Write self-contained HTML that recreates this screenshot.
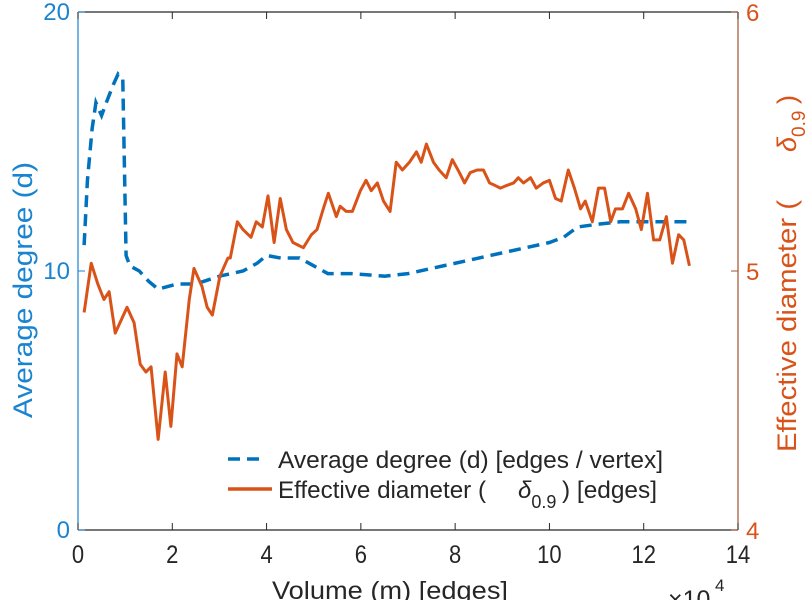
<!DOCTYPE html>
<html><head><meta charset="utf-8"><style>
html,body{margin:0;padding:0;background:#fff;}
svg{display:block;font-family:"Liberation Sans","DejaVu Sans",sans-serif;}
</style></head><body>
<svg id="chart" width="812" height="600" viewBox="0 0 812 600" xmlns="http://www.w3.org/2000/svg">
<g id="grid"></g>
<g id="series"></g>
<g id="legend"></g>
</svg>
<script>
const xTicks=[0,2,4,6,8,10,12,14];
const leftTicks=[0,10,20];
const rightTicks=[4,5,6];
const degX=[0.13,0.2,0.3,0.38,0.5,0.6,0.75,0.85,0.95,1.02,1.1,1.3,1.5,1.7,1.9,2.1,2.5,3.0,3.5,3.8,4.0,4.3,4.7,5.0,5.3,5.8,6.5,7.0,7.5,8.0,8.5,9.0,9.5,10.0,10.3,10.6,11.0,11.5,12.0,12.5,13.0];
const degY=[11.0,13.5,15.5,16.5,16.0,16.5,17.2,17.6,17.4,10.6,10.2,10.0,9.6,9.3,9.4,9.5,9.5,9.8,10.0,10.3,10.6,10.5,10.5,10.2,9.9,9.9,9.8,9.9,10.1,10.3,10.5,10.7,10.9,11.1,11.3,11.7,11.8,11.9,11.9,11.9,11.9];
const diaX=[0.13,0.28,0.42,0.55,0.66,0.79,1.04,1.19,1.32,1.44,1.55,1.70,1.85,1.97,2.10,2.21,2.36,2.46,2.63,2.74,2.85,3.01,3.18,3.23,3.38,3.50,3.67,3.78,3.91,4.03,4.16,4.29,4.42,4.56,4.67,4.78,4.95,5.07,5.22,5.31,5.48,5.56,5.69,5.82,5.99,6.11,6.22,6.35,6.48,6.62,6.75,6.88,7.03,7.18,7.28,7.39,7.54,7.66,7.81,7.94,8.09,8.20,8.32,8.47,8.60,8.73,8.85,8.96,9.09,9.24,9.34,9.45,9.60,9.72,9.87,10.0,10.13,10.25,10.40,10.53,10.66,10.76,10.91,11.04,11.17,11.30,11.40,11.55,11.68,11.83,11.95,12.08,12.21,12.34,12.48,12.61,12.74,12.85,12.97];
const diaY=[4.84,5.03,4.95,4.89,4.92,4.76,4.86,4.80,4.64,4.61,4.63,4.35,4.61,4.40,4.68,4.63,4.89,5.01,4.94,4.86,4.83,4.98,5.05,5.05,5.19,5.16,5.13,5.19,5.17,5.29,5.11,5.28,5.16,5.11,5.10,5.09,5.14,5.16,5.25,5.30,5.21,5.25,5.23,5.23,5.31,5.35,5.31,5.34,5.27,5.23,5.42,5.39,5.42,5.46,5.42,5.49,5.42,5.39,5.36,5.43,5.38,5.34,5.38,5.39,5.39,5.34,5.33,5.32,5.33,5.34,5.36,5.34,5.36,5.32,5.34,5.35,5.28,5.27,5.39,5.32,5.24,5.27,5.19,5.32,5.32,5.19,5.24,5.24,5.30,5.24,5.16,5.30,5.12,5.12,5.21,5.03,5.14,5.12,5.02];

const L=78,R=738,T=12,B=530;
const BLUE="#0072BD",LBLUE="#1a84d0",ORANGE="#D95319",DARK="#262626";
const sx=v=>L+(v-0)/(14-0)*(R-L);
const syL=v=>B-(v-0)/(20-0)*(B-T);
const syR=v=>B-(v-4)/(6-4)*(B-T);
const NS="http://www.w3.org/2000/svg";
function mk(tag,attrs,parent,text){const e=document.createElementNS(NS,tag);for(const k in attrs)e.setAttribute(k,attrs[k]);if(text!==undefined)e.textContent=text;parent.appendChild(e);return e;}
const g=document.getElementById('grid'),s=document.getElementById('series'),lg=document.getElementById('legend');

let e;
e=mk('line',{x1:L,y1:T,x2:R,y2:T,stroke:DARK,'stroke-width':1.2},g);


e=mk('line',{x1:L,y1:B,x2:R,y2:B,stroke:DARK,'stroke-width':1.2},g);


e=mk('line',{x1:L,y1:T,x2:L,y2:B,stroke:LBLUE,'stroke-width':1.2},g);


e=mk('line',{x1:R,y1:T,x2:R,y2:B,stroke:"#a0522d",'stroke-width':1.2},g);



xTicks.forEach(v=>{
  const x=sx(v);
  mk('line',{x1:x,y1:B,x2:x,y2:B-7,stroke:DARK,'stroke-width':1},g);
  mk('line',{x1:x,y1:T,x2:x,y2:T+7,stroke:DARK,'stroke-width':1},g);
  e=mk('text',{x:x,y:B+33,'text-anchor':'middle','font-size':25,fill:DARK,transform:`translate(${x},0) scale(0.88,1) translate(${-x},0)`},g,String(v));
  
  
});
leftTicks.forEach(v=>{
  const y=syL(v);
  mk('line',{x1:L,y1:y,x2:L+7,y2:y,stroke:LBLUE,'stroke-width':1},g);
  e=mk('text',{x:L-8,y:y+8,'text-anchor':'end','font-size':24,fill:LBLUE},g,String(v));
  
  
});
rightTicks.forEach(v=>{
  const y=syR(v);
  mk('line',{x1:R,y1:y,x2:R-7,y2:y,stroke:"#a0522d",'stroke-width':1},g);
  e=mk('text',{x:R+8,y:y+9,'text-anchor':'start','font-size':24,fill:ORANGE},g,String(v));
  
  
});
e=mk('text',{x:272,y:599,'font-size':25,fill:DARK,textLength:236,lengthAdjust:'spacingAndGlyphs'},g,'Volume (m) [edges]');


e=mk('text',{x:668,y:608,'font-size':25,fill:DARK},g,'×10');


mk('text',{x:715,y:591,'font-size':17,fill:DARK},g,'4');
e=mk('text',{x:0,y:0,'text-anchor':'middle','font-size':27,fill:LBLUE,textLength:256,lengthAdjust:'spacingAndGlyphs',transform:'translate(32,290) rotate(-90)'},g,'Average degree (d)');


e=mk('text',{x:0,y:0,'font-size':27,fill:ORANGE,transform:'translate(796,452) rotate(-90)'},g);


e.innerHTML='<tspan textLength="252" lengthAdjust="spacingAndGlyphs">Effective diameter (</tspan><tspan x="300" font-style="italic">δ</tspan><tspan font-size="19" dy="9">0.9</tspan><tspan x="348" dy="-9">)</tspan>';

const degPts=degX.map((x,i)=>sx(x)+','+syL(degY[i])).join(' ');
e=mk('polyline',{points:degPts,fill:'none',stroke:BLUE,'stroke-width':3.5,'stroke-dasharray':'12 7'},s);


const diaPts=diaX.map((x,i)=>sx(x)+','+syR(diaY[i])).join(' ');
e=mk('polyline',{points:diaPts,fill:'none',stroke:ORANGE,'stroke-width':3,'stroke-linejoin':'round'},s);



e=mk('line',{x1:228,y1:459,x2:266,y2:459,stroke:BLUE,'stroke-width':3.5,'stroke-dasharray':'12 7'},lg);


e=mk('text',{x:278,y:468,'font-size':24,fill:DARK,textLength:385,lengthAdjust:'spacingAndGlyphs'},lg,'Average degree (d) [edges / vertex]');


e=mk('line',{x1:228,y1:489,x2:272,y2:489,stroke:ORANGE,'stroke-width':3.5},lg);


e=mk('text',{x:278,y:498,'font-size':24,fill:DARK},lg);


e.innerHTML='<tspan textLength="208" lengthAdjust="spacingAndGlyphs">Effective diameter (</tspan><tspan x="518" font-style="italic">δ</tspan><tspan font-size="18" dy="10">0.9</tspan><tspan x="562" dy="-10" textLength="95" lengthAdjust="spacingAndGlyphs">) [edges]</tspan>';
</script>
</body></html>
